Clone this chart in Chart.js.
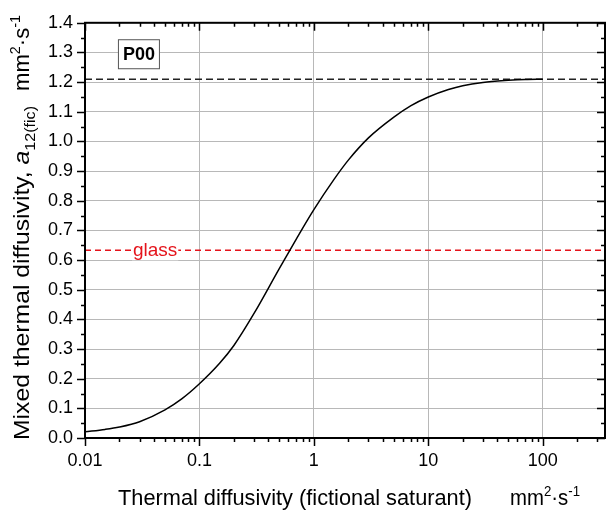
<!DOCTYPE html>
<html>
<head>
<meta charset="utf-8">
<script src="https://cdn.jsdelivr.net/npm/chart.js@4/dist/chart.umd.min.js"></script>
<style>
html,body{margin:0;padding:0;background:#fff;}
#wrap{width:606px;height:510px;}
</style>
</head>
<body>
<div id="wrap"><canvas id="c" width="606" height="510"></canvas></div>
<script>
// ---- data ----
const curveX = [0.01, 0.015, 0.02, 0.03, 0.05, 0.07, 0.1, 0.15, 0.2, 0.3, 0.5, 0.7, 1, 1.5, 2, 3, 5, 7, 10, 15, 20, 30, 50, 70, 100];
const curveY = [0.021, 0.029, 0.037, 0.055, 0.095, 0.132, 0.183, 0.252, 0.312, 0.42, 0.572, 0.67, 0.77, 0.872, 0.937, 1.012, 1.082, 1.12, 1.15, 1.175, 1.188, 1.199, 1.206, 1.209, 1.21];
const plateauValue = 1.21;
const glassValue = 0.633;
const xRange = [0.01, 350];
const yRange = [0, 1.4];
const xTickValues = [0.01, 0.1, 1, 10, 100];
const xTickLabels = ['0.01', '0.1', '1', '10', '100'];
const yStep = 0.1;
const sampleLabel = 'P00';
const glassLabel = 'glass';
const glassLabelX = 0.041;
const sampleLabelPos = [0.0296, 1.294];

const FONT = "'Liberation Sans', Arial, sans-serif";

function richWidth(ctx, runs, S) {
  let w = 0;
  for (const r of runs) {
    const sz = r.pos === 'base' ? S : S * 0.65;
    ctx.font = (r.italic ? 'italic ' : '') + sz + 'px ' + FONT;
    w += ctx.measureText(r.t).width;
  }
  return w;
}
function drawRich(ctx, runs, x, y, S) {
  let cx = x;
  ctx.textBaseline = 'alphabetic';
  ctx.textAlign = 'left';
  for (const r of runs) {
    const sz = r.pos === 'base' ? S : S * 0.65;
    ctx.font = (r.italic ? 'italic ' : '') + sz + 'px ' + FONT;
    let dy = 0;
    if (r.pos === 'sup') dy = -S * 0.42;
    if (r.pos === 'sub') dy = S * 0.28;
    ctx.fillText(r.t, cx, y + dy);
    cx += ctx.measureText(r.t).width;
  }
}
function drawSpan(ctx, runs, x0, x1, y, S) {
  const w = richWidth(ctx, runs, S);
  const k = (x1 - x0) / w;
  ctx.save();
  ctx.translate(x0, y);
  ctx.scale(k, 1);
  drawRich(ctx, runs, 0, 0, S);
  ctx.restore();
}

const unitRuns = [
  {t: 'mm', pos: 'base'}, {t: '2', pos: 'sup'}, {t: '\u00B7s', pos: 'base'}, {t: '-1', pos: 'sup'}
];
const yTitleRuns = [
  {t: 'Mixed thermal diffusivity, ', pos: 'base'}, {t: 'a', pos: 'base', italic: true}, {t: '12(fic)', pos: 'sub'}
];
const xTitleRuns = [{t: 'Thermal diffusivity (fictional saturant)', pos: 'base'}];

const decorPlugin = {
  id: 'decor',
  afterDatasetsDraw(chart) {
    const ctx = chart.ctx;
    const xs = chart.scales.x, ys = chart.scales.y;
    const gx = xs.getPixelForValue(glassLabelX);
    const gy = ys.getPixelForValue(glassValue);
    ctx.save();
    ctx.font = '19px ' + FONT;
    const gw = ctx.measureText(glassLabel).width;
    ctx.fillStyle = '#fff';
    ctx.fillRect(gx - gw / 2 - 1, gy - 10, gw + 2, 20);
    ctx.fillStyle = '#e5131b';
    ctx.textAlign = 'center';
    ctx.textBaseline = 'middle';
    ctx.fillText(glassLabel, gx, gy);
    const bx = xs.getPixelForValue(sampleLabelPos[0]);
    const by = ys.getPixelForValue(sampleLabelPos[1]);
    ctx.fillStyle = '#fff';
    ctx.fillRect(bx - 21, by - 15, 42, 30);
    ctx.strokeStyle = '#555';
    ctx.lineWidth = 1;
    ctx.strokeRect(bx - 20.5, by - 14.5, 41, 29);
    ctx.fillStyle = '#000';
    ctx.font = 'bold 18px ' + FONT;
    ctx.fillText(sampleLabel, bx, by + 1);
    ctx.restore();
  },
  afterDraw(chart) {
    const ctx = chart.ctx;
    const a = chart.chartArea;
    const xs = chart.scales.x, ys = chart.scales.y;
    ctx.save();
    ctx.strokeStyle = '#000';
    ctx.lineWidth = 1.5;
    ctx.beginPath();
    for (let d = -2; d <= 2; d++) {
      for (let m = 1; m <= 9; m++) {
        const v = m * Math.pow(10, d);
        if (v < xRange[0] || v > xRange[1]) continue;
        const px = Math.round(xs.getPixelForValue(v)) + 0.5;
        const len = m === 1 ? 8 : 4;
        ctx.moveTo(px, a.bottom); ctx.lineTo(px, a.bottom + len);
        ctx.moveTo(px, a.top); ctx.lineTo(px, a.top + len);
      }
    }
    for (let i = 0; i <= 28; i++) {
      const v = i * yStep / 2;
      const py = Math.round(ys.getPixelForValue(v)) + 0.5;
      const len = i % 2 === 0 ? 8 : 4;
      ctx.moveTo(a.left, py); ctx.lineTo(a.left - len, py);
      ctx.moveTo(a.right, py); ctx.lineTo(a.right - len, py);
    }
    ctx.stroke();
    ctx.lineWidth = 2;
    ctx.strokeRect(a.left, a.top, a.right - a.left, a.bottom - a.top);
    ctx.fillStyle = '#000';
    const S = 21.5;
    drawSpan(ctx, xTitleRuns, 118, 472, 505, S);
    drawSpan(ctx, unitRuns, 510, 580, 505, S);
    ctx.save();
    ctx.translate(29, 0);
    ctx.rotate(-Math.PI / 2);
    drawSpan(ctx, yTitleRuns, -440, -106, 0, S);
    drawSpan(ctx, unitRuns, -91, -15, 0, S);
    ctx.restore();
    ctx.restore();
  }
};

new Chart(document.getElementById('c'), {
  type: 'line',
  data: {
    datasets: [
      {
        data: curveX.map((x, i) => ({x: x, y: curveY[i]})),
        borderColor: '#000', borderWidth: 1.5, pointRadius: 0,
        cubicInterpolationMode: 'monotone', fill: false, order: 1
      },
      {
        data: xRange.map(x => ({x: x, y: plateauValue})),
        borderColor: '#222', borderWidth: 1.5, borderDash: [7, 4], pointRadius: 0, fill: false, order: 2
      },
      {
        data: xRange.map(x => ({x: x, y: glassValue})),
        borderColor: '#e5131b', borderWidth: 1.5, borderDash: [6, 4], pointRadius: 0, fill: false, order: 2
      }
    ]
  },
  options: {
    responsive: false,
    animation: false,
    devicePixelRatio: 1,
    layout: {padding: {top: 14, right: 1, left: 0, bottom: 0}},
    plugins: {legend: {display: false}, tooltip: {enabled: false}},
    scales: {
      x: {
        type: 'logarithmic', min: xRange[0], max: xRange[1],
        afterBuildTicks: s => { s.ticks = xTickValues.map(v => ({value: v})); },
        afterFit: s => { s.height = 72; },
        ticks: {
          callback: (v) => xTickLabels[xTickValues.indexOf(v)] ?? '',
          color: '#000', font: {family: FONT, size: 18}, padding: 12,
          maxRotation: 0, autoSkip: false
        },
        grid: {color: '#b8b8b8', lineWidth: 1, drawTicks: false},
        border: {display: false}
      },
      y: {
        type: 'linear', min: yRange[0], max: yRange[1],
        afterFit: s => { s.width = 85; },
        ticks: {
          stepSize: yStep,
          callback: v => Number(v).toFixed(1),
          color: '#000', font: {family: FONT, size: 18}, padding: 12
        },
        grid: {color: '#b8b8b8', lineWidth: 1, drawTicks: false},
        border: {display: false}
      }
    }
  },
  plugins: [decorPlugin]
});
</script>
</body>
</html>
